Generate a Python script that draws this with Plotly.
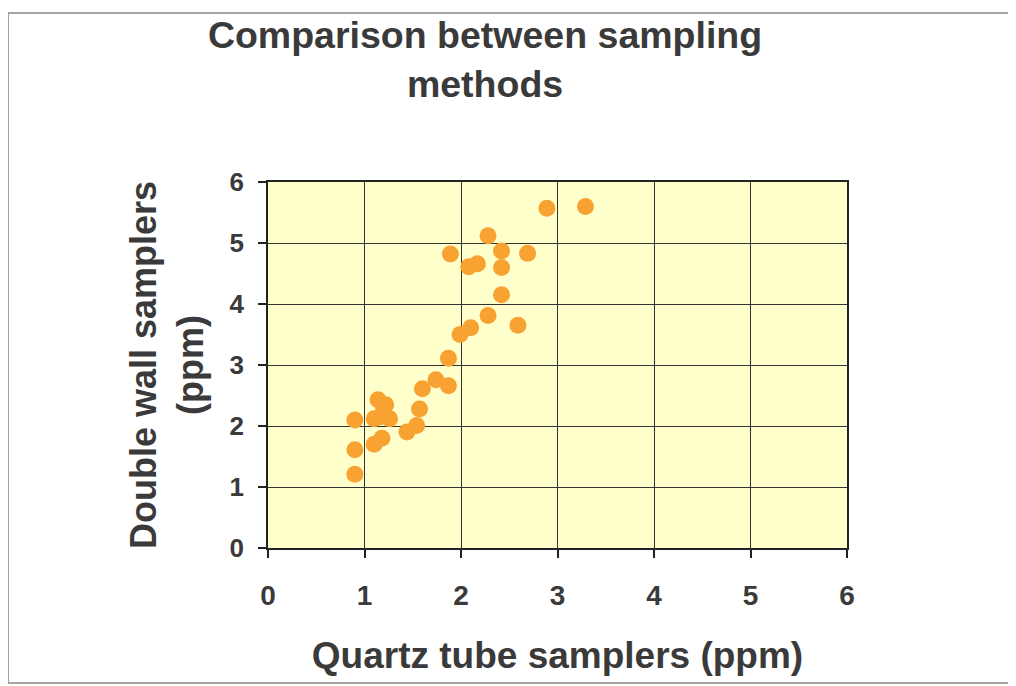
import plotly.graph_objects as go

# Data
quartz_ppm = [2.89, 3.29, 2.28, 2.42, 2.69, 1.89, 2.08, 2.17, 2.42, 2.42, 2.28, 2.59,
              1.99, 2.10, 1.87, 1.74, 1.87, 1.60, 1.57, 1.54, 1.44, 1.14, 1.20, 1.26,
              1.10, 1.16, 1.18, 1.10, 0.90, 0.90, 0.90, 1.22]
double_wall_ppm = [5.57, 5.60, 5.12, 4.87, 4.83, 4.82, 4.61, 4.66, 4.60, 4.15, 3.81, 3.65,
                   3.50, 3.61, 3.11, 2.76, 2.66, 2.61, 2.28, 2.01, 1.90, 2.43, 2.29, 2.12,
                   2.12, 2.15, 1.80, 1.70, 2.10, 1.61, 1.21, 2.35]
tick_vals = [0, 1, 2, 3, 4, 5, 6]

TXT = "#3a3a3a"
FONT = "Liberation Sans, Arial, sans-serif"

fig = go.Figure()
fig.add_trace(go.Scatter(
    x=quartz_ppm, y=double_wall_ppm, mode="markers",
    marker=dict(color="#F8A232", size=17, line=dict(width=0)),
    showlegend=False,
))

axis_common = dict(
    range=[0, 6], tickvals=tick_vals, showgrid=True, gridcolor="#333333", gridwidth=1,
    showline=True, linecolor="#222222", linewidth=1.5, mirror=True,
    ticks="outside", ticklen=8, tickcolor="#222222", tickwidth=1.5,
    zeroline=False, fixedrange=True,
)

fig.update_layout(
    width=1016, height=686,
    margin=dict(l=260, r=177, t=174, b=146),
    paper_bgcolor="white", plot_bgcolor="#FFFFCC",
    title=dict(
        text="<b>Comparison between sampling<br>methods</b>",
        x=0.4695, xanchor="center", y=0.941, yanchor="top",
        font=dict(family=FONT, size=37.5, color=TXT),
    ),
    xaxis=dict(
        **axis_common,
        tickfont=dict(family=FONT, size=28, color=TXT, weight="bold"),
        ticklabelstandoff=14,
        title=dict(text="<b>Quartz tube samplers (ppm)</b>", standoff=32,
                   font=dict(family=FONT, size=37, color=TXT)),
    ),
    yaxis=dict(
        **axis_common,
        tickfont=dict(family=FONT, size=26, color=TXT, weight="bold"),
        ticklabelstandoff=9,
        title=dict(text="<b>Double wall samplers<br>(ppm)</b>", standoff=15,
                   font=dict(family=FONT, size=36, color=TXT)),
    ),
    shapes=[dict(
        type="rect", xref="paper", yref="paper",
        x0=-0.449, x1=1.2815, y0=-0.369, y1=1.462,
        line=dict(color="#888888", width=1.5), fillcolor="rgba(0,0,0,0)", layer="below",
    )],
)

fig.write_html("out.html")
